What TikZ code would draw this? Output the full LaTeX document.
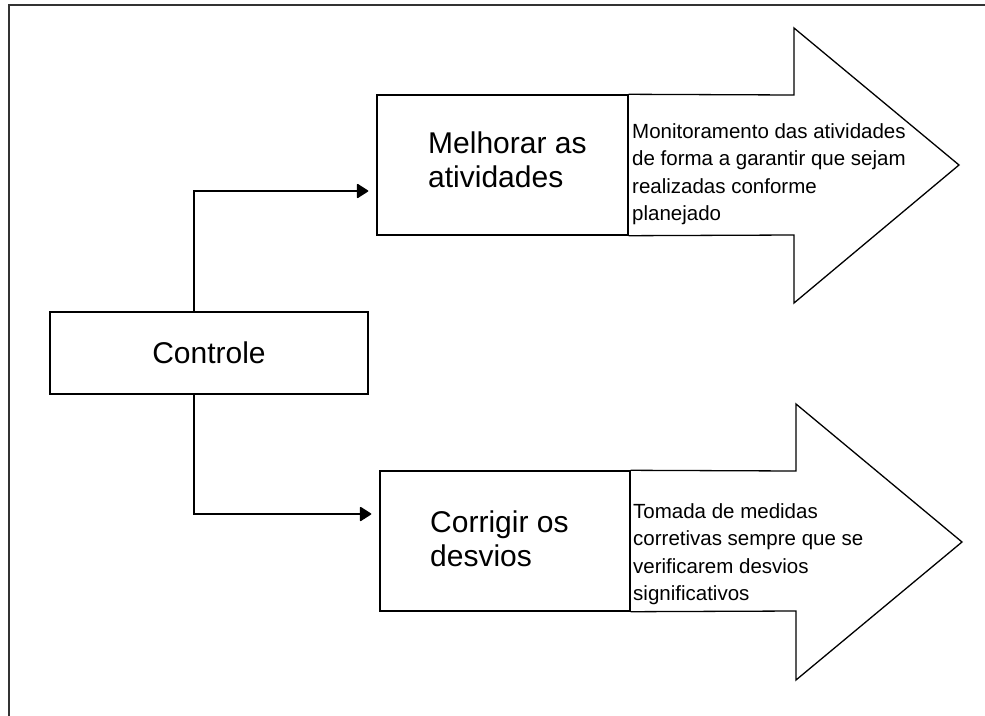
\documentclass[tikz,border=0pt]{standalone}
\usepackage{fontspec}
\setmainfont{Liberation Sans}
\usetikzlibrary{arrows.meta,calc}
\begin{document}
\begin{tikzpicture}[x=1pt,y=-1pt,
  box/.style={draw=black,line width=1.4pt,inner sep=0pt,fill=white},
  bigtxt/.style={inner sep=0pt,anchor=base west,font=\fontsize{30}{34}\selectfont},
  smalltxt/.style={inner sep=0pt,anchor=base west,font=\fontsize{20.5}{27.5}\selectfont},
  outline/.style={draw=black,line width=1.3pt,line join=miter},
  conn/.style={draw=black,line width=1.4pt,-{Triangle[length=12pt,width=15pt,round]},shorten >=8pt}]
\useasboundingbox[fill=white] (0,0) rectangle (985,715);
% frame
\draw[line width=1.6pt,draw=black!80] (9,716) -- (9,5) -- (986,5);
% Controle
\node[box,minimum width=318pt,minimum height=82pt,font=\fontsize{30}{34}\selectfont] (ctrl) at (209,353) {Controle};
% top block
\node[box,minimum width=251pt,minimum height=140pt] (b1) at (502.5,165) {};
\draw[outline] (b1.north east) -- (794,95) -- (794,28) -- (959,165) -- (794,303) -- (794,235) -- (b1.south east);
\node[bigtxt] (t1) at (428,153) {\begin{tabular}[t]{@{}l@{}}Melhorar as\\atividades\end{tabular}};
\node[smalltxt] (d1) at (632,138) {\begin{tabular}[t]{@{}l@{}}Monitoramento das atividades\\de forma a garantir que sejam\\realizadas conforme\\planejado\end{tabular}};
% bottom block
\node[box,minimum width=250pt,minimum height=140pt] (b2) at (505,541) {};
\draw[outline] (b2.north east) -- (796,471) -- (796,404) -- (962,542) -- (796,680) -- (796,611) -- (b2.south east);
\node[bigtxt] (t2) at (430,532) {\begin{tabular}[t]{@{}l@{}}Corrigir os\\desvios\end{tabular}};
\node[smalltxt] (d2) at (633,518) {\begin{tabular}[t]{@{}l@{}}Tomada de medidas\\corretivas sempre que se\\verificarem desvios\\significativos\end{tabular}};
% connectors
\draw[conn] ($(ctrl.north)+(-15,0)$) |- ($(b1.west)+(0,26)$);
\draw[conn] ($(ctrl.south)+(-15,0)$) |- ($(b2.west)+(0,-27)$);
\end{tikzpicture}
\end{document}
